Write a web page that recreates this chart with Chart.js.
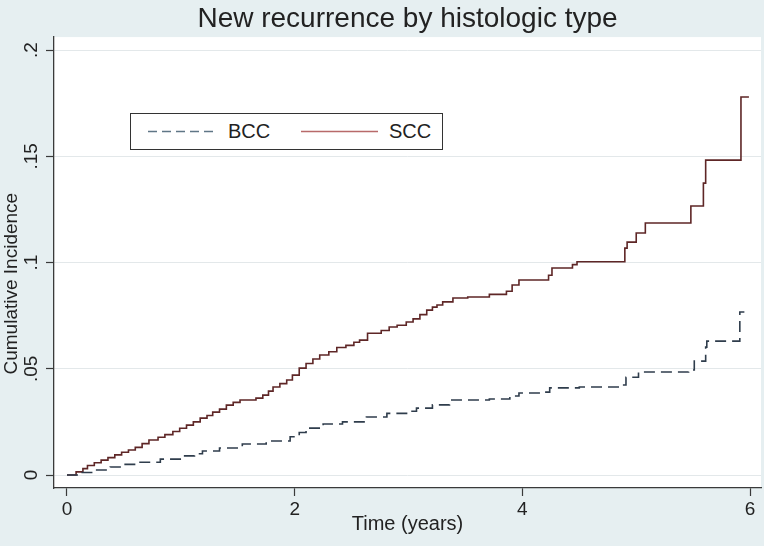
<!DOCTYPE html>
<html>
<head>
<meta charset="utf-8">
<script src="https://cdn.jsdelivr.net/npm/chart.js@4.4.0/dist/chart.umd.min.js"></script>
<style>
html,body{margin:0;padding:0;background:#e6eff1;}
#wrap{position:relative;width:764px;height:546px;overflow:hidden;}
#c{display:block;}
#legend{position:absolute;left:130px;top:113px;width:311px;height:35px;border:1px solid #333;background:#fff;
  font-family:"Liberation Sans",Arial,Helvetica,sans-serif;font-size:20px;color:#222;}
#legend .item{position:absolute;top:0;height:35px;line-height:35px;}
#legend svg{position:absolute;top:0;}
</style>
</head>
<body>
<div id="wrap">
<canvas id="c" width="764" height="546"></canvas>
<div id="legend"></div>
</div>
<script>
// ---- data ----
const seriesNames = ['BCC', 'SCC'];

const bccTime  = [0, 0.10, 0.23, 0.38, 0.50, 0.61, 0.82, 1.02, 1.12, 1.19, 1.34, 1.54, 1.75, 1.96, 2.04, 2.10, 2.25, 2.42, 2.63, 2.81, 3.01, 3.07, 3.21, 3.36, 3.71, 3.89, 3.97, 4.18, 4.24, 4.50, 4.88, 4.91, 5.02, 5.46, 5.51, 5.61, 5.62, 5.91, 5.95];
const bccValue = [0, 0.0012, 0.0024, 0.0038, 0.0050, 0.0060, 0.0075, 0.0090, 0.0100, 0.0113, 0.0127, 0.0146, 0.0160, 0.0180, 0.0200, 0.0221, 0.0240, 0.0250, 0.0273, 0.0290, 0.0300, 0.0315, 0.0330, 0.0353, 0.0358, 0.0372, 0.0386, 0.0390, 0.0410, 0.0414, 0.0424, 0.0460, 0.0485, 0.0494, 0.0536, 0.0602, 0.0630, 0.0767, 0.0767];

const sccTime  = [0, 0.08, 0.14, 0.18, 0.24, 0.30, 0.36, 0.42, 0.48, 0.54, 0.60, 0.66, 0.72, 0.80, 0.86, 0.93, 0.99, 1.05, 1.11, 1.17, 1.23, 1.28, 1.34, 1.40, 1.46, 1.52, 1.66, 1.72, 1.77, 1.81, 1.87, 1.93, 1.98, 2.04, 2.10, 2.16, 2.22, 2.30, 2.37, 2.45, 2.52, 2.57, 2.64, 2.76, 2.83, 2.90, 2.98, 3.04, 3.10, 3.16, 3.21, 3.25, 3.30, 3.39, 3.52, 3.71, 3.86, 3.91, 3.97, 4.23, 4.26, 4.44, 4.48, 4.90, 4.92, 5.00, 5.08, 5.48, 5.59, 5.61, 5.92, 5.99];
const sccValue = [0, 0.0015, 0.0030, 0.0045, 0.0058, 0.0070, 0.0082, 0.0095, 0.0107, 0.0118, 0.0130, 0.0148, 0.0165, 0.0178, 0.0190, 0.0205, 0.0220, 0.0235, 0.0250, 0.0268, 0.0280, 0.0296, 0.0310, 0.0329, 0.0342, 0.0353, 0.0362, 0.0376, 0.0395, 0.0414, 0.0430, 0.0447, 0.0470, 0.0503, 0.0525, 0.0546, 0.0565, 0.0580, 0.0600, 0.0610, 0.0625, 0.0635, 0.0667, 0.0680, 0.0697, 0.0705, 0.0720, 0.0735, 0.0755, 0.0776, 0.0790, 0.0800, 0.0815, 0.0833, 0.0838, 0.0850, 0.0865, 0.0894, 0.0918, 0.0940, 0.0974, 0.0990, 0.1004, 0.1068, 0.1096, 0.1139, 0.1186, 0.1266, 0.1374, 0.1482, 0.1779, 0.1779];

const xTickValues = [0, 2, 4, 6];
const xTickLabels = ['0', '2', '4', '6'];
const yTickValues = [0, 0.05, 0.1, 0.15, 0.2];
const yTickLabels = ['0', '.05', '.1', '.15', '.2'];

const titleText = 'New recurrence by histologic type';
const xTitleText = 'Time (years)';
const yTitleText = 'Cumulative Incidence';

// ---- styling ----
const FONT = '"Liberation Sans", Arial, Helvetica, sans-serif';
const TEXT = '#222';
const AXIS = '#3a3a3a';
const seriesColors = ['#2f3d4c', '#5e2626'];
const seriesDash = [[11, 6], []];

const toPoints = (ts, vs) => ts.map((t, i) => ({x: t, y: vs[i]}));

const plotBg = {
  id: 'plotBg',
  beforeDraw(chart) {
    const {ctx, chartArea: a} = chart;
    ctx.save();
    ctx.fillStyle = '#ffffff';
    ctx.fillRect(a.left, a.top, a.right - a.left, a.bottom - a.top);
    ctx.restore();
  }
};

const chart = new Chart(document.getElementById('c'), {
  type: 'line',
  data: {
    datasets: [
      {label: seriesNames[0], data: toPoints(bccTime, bccValue), borderColor: seriesColors[0], borderDash: seriesDash[0],
       borderWidth: 1.6, pointRadius: 0, stepped: 'before', fill: false},
      {label: seriesNames[1], data: toPoints(sccTime, sccValue), borderColor: seriesColors[1], borderDash: seriesDash[1],
       borderWidth: 1.6, pointRadius: 0, stepped: 'before', fill: false}
    ]
  },
  options: {
    responsive: false,
    animation: false,
    devicePixelRatio: 1,
    layout: {padding: {left: 0, right: 3, top: 0, bottom: 0}},
    plugins: {
      legend: {display: false},
      tooltip: {enabled: false},
      title: {display: true, text: titleText, fullSize: false, color: TEXT,
              font: {family: FONT, size: 28, weight: 'normal'}, padding: {top: 2, bottom: 1.5}}
    },
    scales: {
      x: {
        type: 'linear', min: -0.114, max: 6.096,
        afterBuildTicks: s => { s.ticks = xTickValues.map(v => ({value: v})); },
        afterFit: s => { s.height = 58; },
        grid: {drawOnChartArea: false, tickLength: 8, tickColor: AXIS, tickWidth: 1.2},
        border: {color: AXIS, width: 1.3},
        ticks: {color: TEXT, font: {family: FONT, size: 19}, padding: 2, maxRotation: 0, autoSkip: false,
                callback: (v, i) => xTickLabels[i]},
        title: {display: true, text: xTitleText, color: TEXT, font: {family: FONT, size: 20}, padding: {top: 0, bottom: 10}}
      },
      y: {
        type: 'linear', min: -0.0061, max: 0.2061,
        afterBuildTicks: s => { s.ticks = yTickValues.map(v => ({value: v})); },
        afterFit: s => { s.width = 54; },
        grid: {color: '#e3e8ea', lineWidth: 1, tickLength: 8, tickColor: AXIS, tickWidth: 1.2},
        border: {color: AXIS, width: 1.3},
        ticks: {color: TEXT, font: {family: FONT, size: 19}, padding: 1, minRotation: 90, maxRotation: 90,
                crossAlign: 'center', autoSkip: false, callback: (v, i) => yTickLabels[i]},
        title: {display: true, text: yTitleText + '        ', color: TEXT, font: {family: FONT, size: 19},
                padding: {top: 0, bottom: 0}}
      }
    }
  },
  plugins: [plotBg]
});

// ---- legend (HTML overlay, built from the chart's datasets) ----
const legend = document.getElementById('legend');
const legendLayout = [{line: [17, 85], text: 97}, {line: [170, 247], text: 258}];
const legendColors = ['#5f7686', '#b86a6a'];
chart.data.datasets.forEach((ds, i) => {
  const L = legendLayout[i];
  const svgNS = 'http://www.w3.org/2000/svg';
  const svg = document.createElementNS(svgNS, 'svg');
  svg.setAttribute('width', L.line[1] - L.line[0]);
  svg.setAttribute('height', 35);
  svg.style.left = L.line[0] + 'px';
  const ln = document.createElementNS(svgNS, 'line');
  ln.setAttribute('x1', 0); ln.setAttribute('x2', L.line[1] - L.line[0]);
  ln.setAttribute('y1', 17.5); ln.setAttribute('y2', 17.5);
  ln.setAttribute('stroke', legendColors[i]);
  ln.setAttribute('stroke-width', 1.6);
  if (ds.borderDash && ds.borderDash.length) ln.setAttribute('stroke-dasharray', '9 5');
  svg.appendChild(ln);
  legend.appendChild(svg);
  const t = document.createElement('span');
  t.className = 'item';
  t.style.left = L.text + 'px';
  t.textContent = ds.label;
  legend.appendChild(t);
});
</script>
</body>
</html>
